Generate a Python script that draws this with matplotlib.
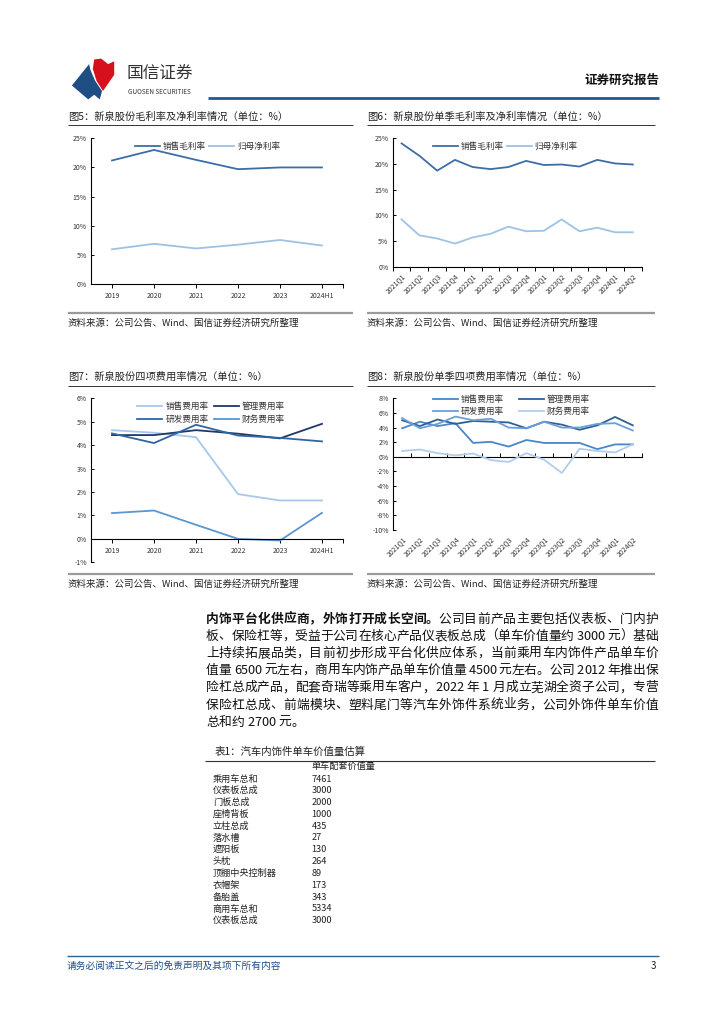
import numpy as np
import matplotlib
matplotlib.use('Agg')
from matplotlib import pyplot as plt
from matplotlib.patches import Polygon
from matplotlib.lines import Line2D
from matplotlib.font_manager import FontProperties

plt.rcParams['font.family'] = ['Noto Sans CJK SC', 'DejaVu Sans']
plt.rcParams['axes.unicode_minus'] = False

W, H = 724, 1024

# ---- data ----
years = ['2019', '2020', '2021', '2022', '2023', '2024H1']
quarters = ['2021Q1', '2021Q2', '2021Q3', '2021Q4', '2022Q1', '2022Q2', '2022Q3',
            '2022Q4', '2023Q1', '2023Q2', '2023Q3', '2023Q4', '2024Q1', '2024Q2']

gross_year = [21.2, 23.0, 21.3, 19.7, 20.0, 20.0]
net_year = [5.95, 6.9, 6.1, 6.75, 7.55, 6.6]

gross_q = [24.0, 21.6, 18.7, 20.8, 19.4, 19.0, 19.4, 20.6, 19.8, 19.9, 19.5, 20.8, 20.1, 19.9]
net_q = [9.2, 6.1, 5.5, 4.5, 5.7, 6.4, 7.8, 6.9, 7.0, 9.2, 6.9, 7.6, 6.7, 6.7]

sell_year = [4.64, 4.53, 4.34, 1.91, 1.64, 1.64]
admin_year = [4.43, 4.43, 4.64, 4.49, 4.29, 4.91]
rd_year = [4.50, 4.09, 4.87, 4.41, 4.31, 4.16]
fin_year = [1.10, 1.21, 0.60, 0.00, -0.07, 1.11]

sell_q = [3.9, 4.8, 4.2, 4.6, 1.9, 2.05, 1.4, 2.3, 1.9, 1.9, 1.9, 1.05, 1.7, 1.7]
admin_q = [5.0, 4.2, 5.1, 4.5, 4.9, 4.8, 4.7, 3.9, 4.8, 4.4, 3.7, 4.3, 5.45, 4.3]
rd_q = [5.3, 3.9, 4.5, 5.5, 5.0, 5.2, 4.0, 3.9, 4.8, 4.0, 4.0, 4.5, 4.6, 3.6]
fin_q = [0.8, 1.0, 0.5, 0.2, 0.45, -0.45, -0.7, 0.5, -0.4, -2.2, 1.1, 0.8, 0.6, 1.7]

yt5 = [0, 5, 10, 15, 20, 25]
yt7 = [-1, 0, 1, 2, 3, 4, 5, 6]
yt8 = [-10, -8, -6, -4, -2, 0, 2, 4, 6, 8]

titles = ['图5：新泉股份毛利率及净利率情况（单位：%）',
          '图6：新泉股份单季毛利率及净利率情况（单位：%）',
          '图7：新泉股份四项费用率情况（单位：%）',
          '图8：新泉股份单季四项费用率情况（单位：%）']
source = '资料来源：公司公告、Wind、国信证券经济研究所整理'

bold_lead = '内饰平台化供应商，外饰打开成长空间。'
body_lines = ['公司目前产品主要包括仪表板、门内护',
              '板、保险杠等，受益于公司在核心产品仪表板总成（单车价值量约 3000 元）基础',
              '上持续拓展品类，目前初步形成平台化供应体系，当前乘用车内饰件产品单车价',
              '值量 6500 元左右，商用车内饰产品单车价值量 4500 元左右。公司 2012 年推出保',
              '险杠总成产品，配套奇瑞等乘用车客户，2022 年 1 月成立芜湖全资子公司，专营',
              '保险杠总成、前端模块、塑料尾门等汽车外饰件系统业务，公司外饰件单车价值',
              '总和约 2700 元。']

table_title = '表1：汽车内饰件单车价值量估算'
table_header = '单车配套价值量'
table_items = ['乘用车总和', '仪表板总成', '门板总成', '座椅背板', '立柱总成', '落水槽', '遮阳板',
               '头枕', '顶棚中央控制器', '衣帽架', '备胎盖', '商用车总和', '仪表板总成']
table_values = [7461, 3000, 2000, 1000, 435, 27, 130, 264, 89, 173, 343, 5334, 3000]

fig = plt.figure(figsize=(W / 100, H / 100), dpi=100)


def fx(x):
    return x / W


def fy(y):
    return 1 - y / H


def hline(x1, x2, y, color, lw):
    fig.add_artist(Line2D([fx(x1), fx(x2)], [fy(y), fy(y)], transform=fig.transFigure,
                          color=color, lw=lw, solid_capstyle='butt'))


def txt(x, y, s, **kw):
    kw.setdefault('va', 'center')
    return fig.text(fx(x), fy(y), s, **kw)


def add_ax(l, t, r, b):
    return fig.add_axes([fx(l), fy(b), (r - l) / W, (b - t) / H])


def style(ax, yticks, n):
    ax.set_ylim(yticks[0], yticks[-1])
    ax.set_yticks(yticks)
    ax.set_yticklabels(['%d%%' % v for v in yticks])
    ax.set_xlim(-0.5, n - 0.5)
    for s in ['top', 'right']:
        ax.spines[s].set_visible(False)
    for s in ['left', 'bottom']:
        ax.spines[s].set_linewidth(0.8)
    ax.tick_params(axis='y', direction='in', length=2.5, width=0.7, labelsize=5, pad=3,
                   labelcolor='#333333')
    ax.tick_params(axis='x', labelsize=5, labelcolor='#333333')


def legend(ax, lines, labels, x, y, ncol, colsp, rowsp):
    ax.legend(lines, labels, loc='center left', bbox_to_anchor=(x, y), ncol=ncol,
              frameon=False, fontsize=6.2, handlelength=2.9, handletextpad=0.35,
              columnspacing=colsp, labelspacing=rowsp, borderpad=0, borderaxespad=0,
              labelcolor='#333333')


# ---- header ----
red_pts = [(94.2, 59.5), (101.2, 58.6), (108.1, 64.1), (114.2, 61.3), (114.2, 74.8),
           (103, 91), (96.5, 80.8), (92.8, 68.8)]
blue_pts = [(89.1, 64.1), (71.9, 85.5), (88.2, 99.4), (94.2, 94.8), (99.8, 99.4),
            (102, 91), (95.1, 80.8), (90.5, 70.2)]
fig.add_artist(Polygon([(fx(a), fy(b)) for a, b in red_pts], closed=True,
                       transform=fig.transFigure, color='#d7101e', lw=0))
fig.add_artist(Polygon([(fx(a), fy(b)) for a, b in blue_pts], closed=True,
                       transform=fig.transFigure, color='#1f4e84', lw=0))
txt(127, 73.5, '国信证券', fontsize=12, color='#333333')
txt(127.5, 92, 'GUOSEN SECURITIES', fontsize=4.6, color='#333333')
txt(659, 80.5, '证券研究报告', fontsize=9, fontweight='bold', color='#111111', ha='right')
hline(208, 659, 98, '#1f5a96', 2)

# ---- chart frames (titles, rules, sources) ----
frames = [(68, 353, 116.7, 125, 313.3, 323.5),
          (367, 655, 116.7, 125, 313.3, 323.5),
          (68, 353, 376.7, 385.7, 574.3, 584.3),
          (367, 655, 376.7, 385.7, 574.3, 584.3)]
for (x1, x2, ty, ly, by, sy), title in zip(frames, titles):
    txt(x1, ty, title, fontsize=7.4, color='#222222')
    hline(x1, x2, ly, '#333333', 0.7)
    hline(x1, x2, by, '#9a9a9a', 1.6)
    txt(x1, sy, source, fontsize=6.8, color='#222222')

# ---- chart 5 ----
ax5 = add_ax(91, 138.3, 343, 284)
style(ax5, yt5, len(years))
x = np.arange(len(years))
l1, = ax5.plot(x, gross_year, color='#3a6ea5', lw=1.3)
l2, = ax5.plot(x, net_year, color='#9cc2e5', lw=1.3)
ax5.set_xticks(x)
ax5.set_xticklabels(years)
ax5.set_xticks([len(years) - 0.5], minor=True)
ax5.tick_params(axis='x', which='both', direction='out', length=3, width=0.7, pad=3)
legend(ax5, [l1, l2], ['销售毛利率', '归母净利率'], 0.175, 0.942, 2, 0.3, 0.4)

# ---- chart 6 ----
ax6 = add_ax(392.7, 138.3, 641.7, 266.7)
style(ax6, yt5, len(quarters))
xq = np.arange(len(quarters))
l1, = ax6.plot(xq, gross_q, color='#3b6ea6', lw=1.3)
l2, = ax6.plot(xq, net_q, color='#9dc3e6', lw=1.3)
ax6.set_xticks(xq)
ax6.set_xticklabels(quarters, rotation=45, ha='right', rotation_mode='anchor')
ax6.set_xticks(np.arange(-0.5, len(quarters)), minor=True)
ax6.tick_params(axis='x', which='major', length=0, pad=4)
ax6.tick_params(axis='x', which='minor', direction='out', length=3, width=0.7)
legend(ax6, [l1, l2], ['销售毛利率', '归母净利率'], 0.162, 0.935, 2, 0.3, 0.4)

# ---- chart 7 ----
ax7 = add_ax(91, 398.3, 343, 562.3)
style(ax7, yt7, len(years))
ls, = ax7.plot(x, sell_year, color='#a6c8ea', lw=1.3)
la, = ax7.plot(x, admin_year, color='#1f3864', lw=1.3)
lr, = ax7.plot(x, rd_year, color='#2e65a3', lw=1.3)
lf, = ax7.plot(x, fin_year, color='#5a96d2', lw=1.3)
ax7.spines['bottom'].set_position(('data', 0))
ax7.set_xticks(x)
ax7.set_xticklabels(years)
ax7.set_xticks([len(years) - 0.5], minor=True)
ax7.tick_params(axis='x', which='both', direction='out', length=3, width=0.7, pad=3)
legend(ax7, [ls, lr, la, lf], ['销售费用率', '研发费用率', '管理费用率', '财务费用率'],
       0.184, 0.911, 2, 0.6, 0.43)

# ---- chart 8 ----
ax8 = add_ax(393.3, 398.3, 641.7, 530)
style(ax8, yt8, len(quarters))
ls, = ax8.plot(xq, sell_q, color='#4a86c8', lw=1.3)
la, = ax8.plot(xq, admin_q, color='#2f5f95', lw=1.3)
lr, = ax8.plot(xq, rd_q, color='#6b9fd8', lw=1.3)
lf, = ax8.plot(xq, fin_q, color='#b0cdee', lw=1.3)
ax8.spines['bottom'].set_visible(False)
ax8.set_xticks(xq)
ax8.set_xticklabels(quarters, rotation=45, ha='right', rotation_mode='anchor')
ax8.tick_params(axis='x', which='major', length=0, pad=4)
zero = ax8.secondary_xaxis((0 - yt8[0]) / (yt8[-1] - yt8[0]))
zero.set_xticks(np.arange(-0.5, len(quarters)))
zero.set_xticklabels([])
zero.tick_params(axis='x', direction='out', length=3, width=0.7)
zero.spines['bottom'].set_linewidth(0.8)
legend(ax8, [ls, lr, la, lf], ['销售费用率', '研发费用率', '管理费用率', '财务费用率'],
       0.159, 0.943, 2, 1.75, 0.36)

# ---- body text (justified, char by char) ----
fig.canvas.draw()
renderer = fig.canvas.get_renderer()
fs = 9.2
left, right = 206, 658
fams = ['Noto Sans CJK SC', 'DejaVu Sans']


def char_width(c, weight):
    fp = FontProperties(family=fams, size=fs, weight=weight)
    w, _, _ = renderer.get_text_width_height_descent(c, fp, ismath=False)
    return w


line_y = [619 + 17.2 * i for i in range(len(body_lines))]
for i, (yy, s) in enumerate(zip(line_y, body_lines)):
    chars = [(c, 'normal') for c in s]
    if i == 0:
        chars = [(c, 'bold') for c in bold_lead] + chars
    widths = [char_width(c, w) for c, w in chars]
    gap = 0.0
    if i < len(body_lines) - 1 and len(chars) > 1:
        gap = (right - left - sum(widths)) / (len(chars) - 1)
    pos = left
    for (c, w), cw in zip(chars, widths):
        if c != ' ':
            txt(pos, yy, c, fontsize=fs, fontweight=w, color='#111111')
        pos += cw + gap

# ---- table ----
txt(215, 751.7, table_title, fontsize=7.5, color='#222222')
hline(205, 655, 760.7, '#333333', 0.8)
txt(311.7, 766.7, table_header, fontsize=6.6, color='#222222')
for i, (name, val) in enumerate(zip(table_items, table_values)):
    yy = 779 + 11.8 * i
    txt(212.7, yy, name, fontsize=6.6, color='#222222')
    txt(311.7, yy, str(val), fontsize=6.6, color='#222222')

# ---- footer ----
hline(67, 659, 955.5, '#2e5f95', 1.0)
txt(67, 966, '请务必阅读正文之后的免责声明及其项下所有内容', fontsize=7, color='#1f4e8c',
    style='italic')
txt(656, 966, '3', fontsize=7, color='#222222', ha='right')

fig.savefig('out.png', dpi=100)
